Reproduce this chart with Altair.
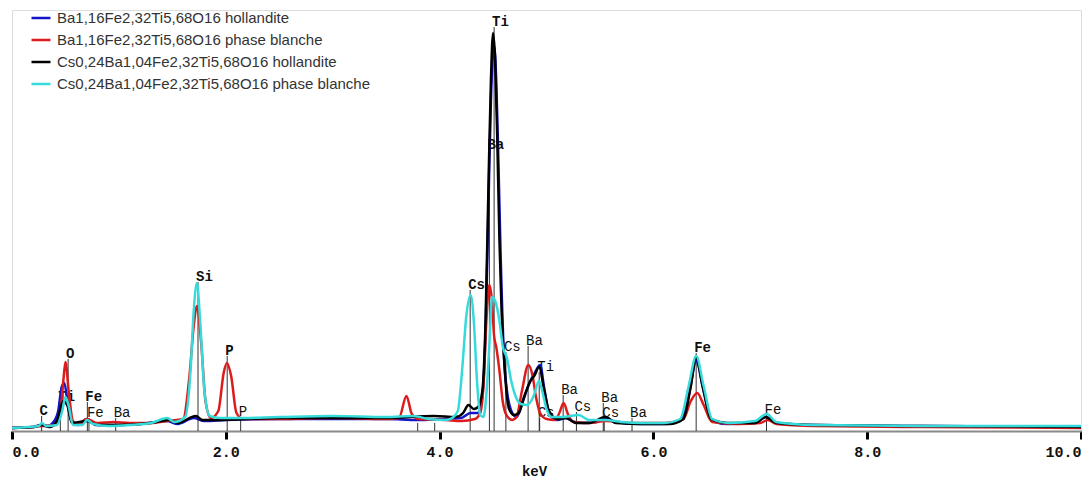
import altair as alt
import pandas as pd

SERIES = [
    "Ba1,16Fe2,32Ti5,68O16 hollandite",
    "Ba1,16Fe2,32Ti5,68O16 phase blanche",
    "Cs0,24Ba1,04Fe2,32Ti5,68O16 hollandite",
    "Cs0,24Ba1,04Fe2,32Ti5,68O16 phase blanche",
]
COLORS = ["#1414c8", "#dc1c1c", "#000000", "#36dada"]

# --- spectra (keV, counts in arbitrary units) ---
E_BLUE = [0.0, 0.2, 0.28, 0.33, 0.38, 0.43, 0.465, 0.49, 0.52, 0.56, 0.62, 0.70, 0.78, 0.95, 1.2, 1.45,
          1.55, 1.70, 1.80, 2.0, 2.5, 3.0, 3.5, 3.8, 4.0, 4.2, 4.29, 4.36, 4.40, 4.43, 4.46, 4.48, 4.51,
          4.53, 4.55, 4.57, 4.60, 4.63, 4.68, 4.72, 4.78, 4.84, 4.89, 4.94, 4.98, 5.03, 5.10, 5.18, 5.26,
          5.35, 5.47, 5.55, 5.65, 5.85, 6.1, 6.25, 6.33, 6.40, 6.47, 6.55, 6.7, 6.95, 7.05, 7.15, 7.5,
          8.5, 10.0]
C_BLUE = [3, 4, 6, 5, 8, 19, 44, 48, 28, 9, 6, 12, 6, 6, 7, 10,
          7, 13, 10, 11, 12, 12, 12, 11, 12, 13, 18, 18, 35, 100, 240, 330, 385,
          350, 270, 180, 80, 40, 18, 14, 30, 48, 58, 66, 42, 16, 11, 13, 9,
          8, 9, 13, 9, 7, 7, 10, 35, 70, 40, 10, 7, 8, 14, 8, 6,
          5, 4]

E_RED = [0.0, 0.2, 0.28, 0.40, 0.45, 0.48, 0.50, 0.53, 0.57, 0.62, 0.70, 0.80, 0.95, 1.1, 1.3, 1.45,
         1.6, 1.66, 1.70, 1.73, 1.77, 1.81, 1.86, 1.93, 1.98, 2.01, 2.05, 2.10, 2.16, 2.5, 3.0, 3.5,
         3.62, 3.69, 3.74, 3.80, 4.06, 4.2, 4.33, 4.38, 4.41, 4.44, 4.465, 4.49, 4.51, 4.53, 4.56, 4.59,
         4.63, 4.68, 4.72, 4.77, 4.83, 4.87, 4.90, 4.94, 5.0, 5.08, 5.12, 5.16, 5.20, 5.25, 5.4, 5.55,
         5.8, 6.1, 6.28, 6.35, 6.41, 6.47, 6.55, 6.8, 7.0, 7.07, 7.15, 7.5, 8.5, 10.0]
C_RED = [3, 4, 5, 6, 15, 50, 69, 40, 10, 7, 12, 8, 9, 8, 8, 10,
         12, 55, 105, 125, 88, 30, 13, 20, 58, 68, 55, 18, 12, 12, 13, 12,
         13, 35, 17, 12, 11, 10, 12, 18, 45, 115, 146, 130, 95, 84, 60, 30,
         15, 11, 14, 40, 66, 55, 35, 18, 12, 11, 18, 28, 17, 9, 8, 10,
         8, 8, 12, 30, 38, 26, 9, 7, 8, 11, 7, 5, 4, 3]

E_BLACK = [0.0, 0.2, 0.28, 0.35, 0.42, 0.48, 0.52, 0.56, 0.70, 0.80, 1.0, 1.3, 1.47, 1.55, 1.72, 1.78,
           1.9, 2.5, 3.5, 3.95, 4.15, 4.22, 4.27, 4.32, 4.36, 4.40, 4.43, 4.46, 4.48, 4.50, 4.52, 4.54,
           4.56, 4.58, 4.61, 4.65, 4.70, 4.74, 4.79, 4.85, 4.89, 4.93, 4.98, 5.02, 5.10, 5.18, 5.28, 5.40,
           5.55, 5.65, 5.9, 6.15, 6.28, 6.35, 6.40, 6.46, 6.54, 6.7, 6.95, 7.05, 7.15, 7.5, 8.5, 10.0]
C_BLACK = [3, 4, 6, 4, 10, 30, 25, 8, 10, 6, 6, 8, 11, 8, 15, 11,
           11, 13, 13, 15, 14, 18, 26, 22, 24, 40, 110, 260, 350, 398, 370, 290,
           190, 120, 60, 22, 16, 18, 34, 50, 56, 64, 40, 21, 12, 13, 8, 8,
           14, 8, 7, 7, 12, 45, 73, 45, 12, 8, 8, 14, 8, 6, 5, 4]

E_CYAN = [0.0, 0.15, 0.25, 0.28, 0.32, 0.42, 0.47, 0.50, 0.53, 0.57, 0.66, 0.70, 0.76, 0.9, 1.1, 1.3,
          1.45, 1.52, 1.62, 1.67, 1.70, 1.73, 1.76, 1.80, 1.85, 1.95, 2.1, 2.5, 3.0, 3.5, 3.75, 3.9,
          4.05, 4.10, 4.17, 4.21, 4.25, 4.29, 4.32, 4.35, 4.38, 4.41, 4.44, 4.47, 4.49, 4.52, 4.56, 4.59,
          4.63, 4.67, 4.71, 4.76, 4.82, 4.88, 4.93, 4.96, 5.00, 5.05, 5.15, 5.30, 5.40, 5.55, 5.7, 5.9,
          6.1, 6.25, 6.33, 6.40, 6.47, 6.55, 6.7, 6.95, 7.06, 7.15, 7.5, 8.5, 10.0]
C_CYAN = [3, 4, 5, 8, 5, 6, 20, 34, 25, 6, 6, 11, 7, 5, 6, 8,
          13, 9, 14, 60, 120, 148, 110, 40, 15, 13, 13, 14, 15, 14, 15, 12,
          11, 12, 20, 60, 115, 136, 110, 50, 16, 14, 40, 95, 134, 130, 110, 85,
          73, 50, 35, 27, 26, 35, 50, 40, 22, 14, 14, 16, 11, 11, 9, 8,
          8, 12, 45, 75, 45, 12, 8, 10, 17, 9, 6, 5, 5]

# --- element line markers (keV, marker height, label, bold) ---
MARK_E = [0.277, 0.452, 0.525, 0.705, 0.72, 0.97, 1.74, 2.013, 2.139, 3.795, 3.954,
          4.286, 4.466, 4.51, 4.62, 4.828, 4.932, 4.936, 5.156, 5.28, 5.531, 5.54, 5.80, 6.40, 7.058]
MARK_H = [15, 29, 72, 29, 13, 13, 149, 75, 14, 8, 8,
          141, 281, 404, 79, 85, 59, 13, 36, 19, 28, 13, 13, 78, 16]
MARK_LABEL = ["C", "Ti", "O", "Fe", "Fe", "Ba", "Si", "P", "P", "", "",
              "Cs", "Ba", "Ti", "Cs", "Ba", "Ti", "Cs", "Ba", "Cs", "Ba", "Cs", "Ba", "Fe", "Fe"]
MARK_BOLD = [1, 1, 1, 1, 0, 0, 1, 1, 0, 0, 0,
             1, 1, 1, 0, 0, 0, 0, 0, 0, 0, 0, 0, 1, 0]

XTICKS = [0, 2, 4, 6, 8, 10]

frames = []
for name, e, c in [(SERIES[0], E_BLUE, C_BLUE), (SERIES[1], E_RED, C_RED),
                   (SERIES[2], E_BLACK, C_BLACK), (SERIES[3], E_CYAN, C_CYAN)]:
    frames.append(pd.DataFrame({"keV": e, "counts": c, "series": name}))

mk = pd.DataFrame({"e": MARK_E, "h": MARK_H, "label": MARK_LABEL, "bold": MARK_BOLD})

xs = alt.Scale(domain=[0, 10], nice=False, zero=False)
ys = alt.Scale(domain=[0, 421], nice=False)

xaxis = alt.Axis(values=XTICKS, format=".1f", labelFlush=True, grid=False,
                 tickSize=8, tickWidth=3, tickColor="#000000",
                 domainColor="#8a8a8a", domainWidth=2,
                 labelFont="Liberation Mono", labelFontSize=15, labelFontWeight="bold",
                 labelColor="#111111", labelPadding=5,
                 title="keV", titleFont="Liberation Mono", titleFontSize=14,
                 titleFontWeight="bold", titleColor="#111111",
                 titleX=522, titleY=44, titleBaseline="alphabetic", titleAlign="center")

rules = alt.Chart(mk).mark_rule(color="#333333", strokeWidth=1).encode(
    x=alt.X("e:Q", scale=xs, axis=xaxis),
    y=alt.Y("h:Q", scale=ys, axis=None),
    y2=alt.datum(0),
)

def labels(b):
    return alt.Chart(mk).transform_filter(alt.datum.bold == b).mark_text(
        align="left", baseline="alphabetic", dx=-2, dy=-1,
        font="Liberation Mono", fontSize=14, fontWeight="bold" if b else "normal",
        color="#111111",
    ).encode(x=alt.X("e:Q", scale=xs), y=alt.Y("h:Q", scale=ys), text="label:N")

color_scale = alt.Scale(domain=SERIES, range=COLORS)
legend = alt.Legend(orient="none", legendX=18, legendY=-3, title=None,
                    symbolType="stroke", symbolSize=361, symbolStrokeWidth=2.5,
                    labelFont="Liberation Sans", labelFontSize=15, labelColor="#333333",
                    labelOffset=5, labelLimit=500, rowPadding=3, padding=0)

lines = []
for df in frames:
    lines.append(alt.Chart(df).mark_line(strokeWidth=2.5, interpolate="monotone").encode(
        x=alt.X("keV:Q", scale=xs),
        y=alt.Y("counts:Q", scale=ys),
        color=alt.Color("series:N", scale=color_scale, legend=legend),
    ))

chart = alt.layer(rules, labels(0), labels(1), *lines).properties(
    width=1069, height=421,
    padding={"left": 4, "top": 2, "right": 1, "bottom": 48},
    autosize="none",
).configure_view(stroke=None).configure(background="white")

chart.save("out.html", embed_options={"renderer": "svg", "actions": False})
